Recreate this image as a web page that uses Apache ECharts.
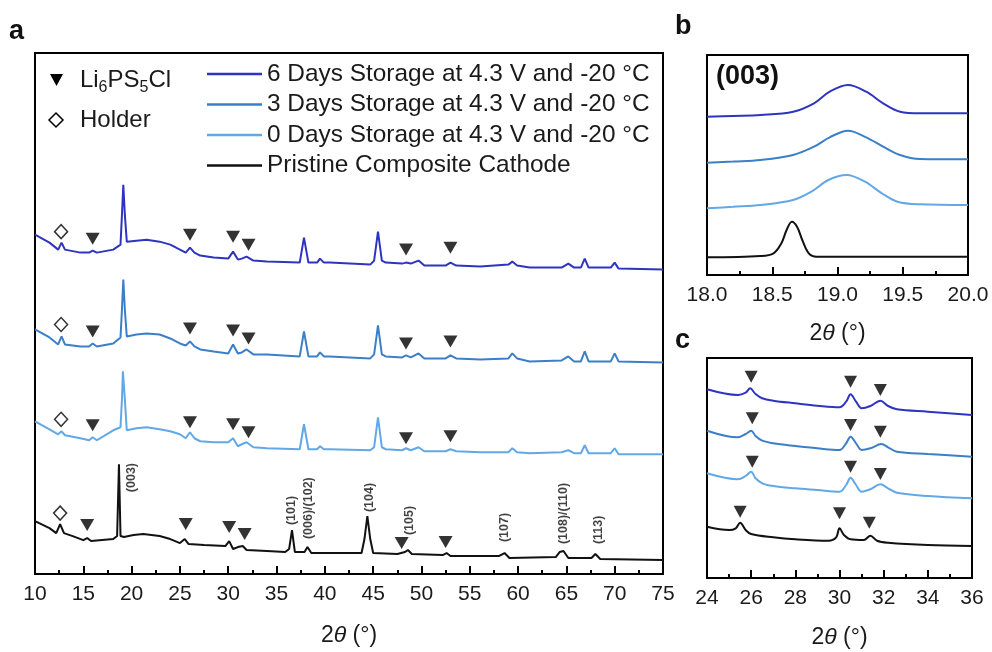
<!DOCTYPE html>
<html>
<head>
<meta charset="utf-8">
<script src="https://cdn.jsdelivr.net/npm/echarts@6/dist/echarts.min.js"></script>
<style>
  html, body { margin: 0; padding: 0; background: #fff; }
  #chart { width: 992px; height: 652px; }
</style>
</head>
<body>
<div id="chart"></div>
<script>
// ---- Series names and colours ----
const curveNames = [
  '6 Days Storage at 4.3 V and -20 °C',
  '3 Days Storage at 4.3 V and -20 °C',
  '0 Days Storage at 4.3 V and -20 °C',
  'Pristine Composite Cathode'
];
const curveColors = ['#2f34c0', '#3b7fc8', '#63a8e6', '#111111'];

// ---- (a) full scans, 2θ (°) vs intensity (a.u., above each trace's own baseline) ----
const scanA_6d = [[10,35],[11.5,27],[12.4,20],[12.75,27],[13.1,20],[14.7,17],[15.6,17],[15.97,19],[16.4,17],[18.1,20],[18.85,25],[19.0,55],[19.14,85],[19.3,55],[19.5,28],[20.5,29],[21.55,30],[22.9,28],[24.0,25],[25.0,20],[25.6,17],[26.04,22],[26.5,17],[27.1,14],[28.5,12],[30.0,11],[30.5,18],[31.0,10],[31.4,11],[31.9,13],[32.6,9],[34.0,8],[37.4,7],[37.84,32],[38.3,7],[39.2,7],[39.5,11],[39.9,7],[40.5,7],[44.7,5],[45.1,9],[45.5,38],[45.9,9],[46.3,7],[48.0,6],[48.4,7],[48.9,6],[49.7,9],[50.3,4],[52.5,4],[53.0,7],[53.6,4],[56.1,3],[59.0,5],[59.4,8],[59.9,4],[61.2,2],[64.5,2],[65.2,6],[65.8,2],[66.5,2],[66.9,11],[67.3,2],[69.6,2],[70.0,7],[70.4,1],[75,0]];
const scanA_3d = [[10,33],[11.5,25],[12.4,18],[12.75,26],[13.1,18],[14.7,16],[15.6,16],[15.97,19],[16.4,16],[18.1,19],[18.85,25],[19.0,53],[19.14,83],[19.3,53],[19.5,26],[20.5,28],[21.55,29],[22.9,28],[24.0,24],[25.0,19],[25.6,17],[26.04,21],[26.5,16],[27.1,13],[28.5,11],[30.0,9],[30.5,18],[31.0,9],[31.4,10],[31.9,13],[32.6,8],[34.0,8],[37.4,6],[37.84,31],[38.3,6],[39.2,6],[39.5,10],[39.9,6],[40.5,6],[44.7,4],[45.1,8],[45.5,37],[45.9,8],[46.3,6],[48.0,5],[48.4,7],[48.9,5],[49.7,9],[50.3,4],[52.5,4],[53.0,7],[53.6,4],[56.1,3],[59.0,4],[59.4,9],[59.9,4],[61.2,1],[64.5,2],[65.2,6],[65.8,1],[66.5,1],[66.9,11],[67.3,1],[69.6,1],[70.0,9],[70.4,1],[75,0]];
const scanA_0d = [[10,33],[11.5,25],[12.4,20],[12.75,23],[13.1,19],[14.7,16],[15.6,14],[15.97,17],[16.4,14],[18.1,24],[18.85,27],[19.0,55],[19.1,83],[19.3,55],[19.5,24],[20.5,26],[21.55,27],[22.9,25],[24.0,23],[25.0,20],[25.6,16],[26.04,22],[26.5,16],[27.1,13],[28.5,12],[30.0,12],[30.5,16],[31.0,8],[31.4,10],[31.9,12],[32.6,7],[34.0,6],[37.4,5],[37.84,30],[38.3,5],[39.2,5],[39.5,8],[39.9,5],[40.5,5],[44.7,4],[45.1,7],[45.5,37],[45.9,7],[46.3,5],[48.0,4],[48.4,6],[48.9,4],[49.7,7],[50.3,3],[52.5,3],[53.0,5],[53.6,3],[56.1,2],[59.0,2],[59.4,6],[59.9,2],[61.2,1],[64.5,2],[65.2,4],[65.8,1],[66.5,1],[66.9,9],[67.3,1],[69.6,1],[70.0,6],[70.4,0],[75,0]];
const scanA_pristine = [[10,39],[11.5,32],[12.2,27],[12.6,36],[13.0,27],[13.9,24],[15.0,20],[15.4,22],[15.8,19],[18.1,21],[18.5,24],[18.69,96],[18.85,24],[19.2,23],[20.2,25],[21.2,26],[22.9,24],[24.0,21],[25.0,17],[25.5,21],[25.9,16],[27.5,15],[29.7,14],[30.1,19],[30.5,11],[31.0,13],[31.5,14],[31.9,10],[34.0,9],[35.9,8],[36.3,11],[36.6,30],[36.9,8],[37.9,8],[38.2,13],[38.6,7],[40.5,7],[43.8,7],[44.1,21],[44.4,44],[44.7,21],[45.0,7],[47.5,6],[48.3,8],[48.6,10],[49.0,6],[52.2,5],[52.6,7],[53.0,4],[58.0,4],[58.6,7],[59.1,2],[63.9,3],[64.3,8],[64.7,9],[65.2,2],[67.6,2],[68.0,6],[68.5,1],[75,0]];
const offsetsA = [305, 212, 120, 14];

// Li6PS5Cl reflections (▼) and holder reflection (◇), same intensity scale as the traces
const li6A_6d = [[15.97,31],[26.04,35],[30.5,33],[32.1,25],[48.4,20],[53.0,22]];
const li6A_3d = [[15.97,31],[26.04,34],[30.5,32],[32.1,24],[48.4,19],[53.0,21]];
const li6A_0d = [[15.97,29],[26.04,32],[30.5,30],[32.1,22],[48.4,16],[53.0,18]];
const li6A_pristine = [[15.4,35],[25.6,36],[30.1,33],[31.7,26],[47.95,17],[52.5,18]];
const holderA = [[12.7,38],[12.7,38],[12.7,35],[12.6,47]];

// Indexed reflections of the pristine cathode
const hklLabels = ['(003)','(101)','(006)/(102)','(104)','(105)','(107)','(108)/(110)','(113)'];
const hklTheta  = [20.0, 36.57, 38.29, 44.6, 48.74, 58.64, 64.68, 68.3];
const hklLevel  = [68, 35, 21, 48, 25, 18, 16, 16];

// ---- (b) (003) region ----
const scanB_6d = [[18.0,0],[18.2,0.8],[18.41,1.7],[18.66,5],[18.82,13.4],[18.94,25],[19.08,31.7],[19.22,25],[19.35,13.4],[19.48,5],[19.63,3.4],[20.0,3.4]];
const scanB_3d = [[18.0,0],[18.2,1.2],[18.41,2.7],[18.66,7.7],[18.82,16],[18.94,25.4],[19.08,32],[19.22,25.4],[19.35,16],[19.48,7.7],[19.63,3.7],[20.0,3.4]];
const scanB_0d = [[18.0,0],[18.2,1.5],[18.41,3.3],[18.66,8.3],[18.8,16.6],[18.93,28.3],[19.07,33.3],[19.21,26.6],[19.34,15],[19.46,6.6],[19.63,4],[20.0,3.3]];
const scanB_pristine = [[18.0,0],[18.41,1.3],[18.51,4],[18.57,14],[18.61,27.3],[18.65,35.6],[18.69,30.6],[18.73,17.3],[18.78,4],[18.84,0.6],[20.0,0.6]];
const offsetsB = [158.3, 112.3, 66.7, 17.7];

// ---- (c) 24–36° region ----
const scanC_6d = [[24,25.7],[25.4,20],[25.75,22.3],[25.95,26.7],[26.2,21],[26.5,16.7],[27,14.3],[28,11.7],[29,9.3],[30,7.7],[30.3,13.3],[30.5,20.7],[30.75,13.3],[31.0,6.7],[31.4,9],[31.85,14.3],[32.2,9],[32.6,5.7],[34,3.3],[36,0]];
const scanC_3d = [[24,26],[25.4,19.4],[25.75,22.7],[26.0,26],[26.2,20.7],[26.5,16],[27,13.4],[28,10.7],[29,8.4],[30,6.7],[30.3,13.4],[30.5,20],[30.75,13.4],[31.0,6.7],[31.4,8.4],[31.9,12.7],[32.2,9.4],[32.6,5],[34,2.7],[36,0]];
const scanC_0d = [[24,25],[25.4,19],[25.75,22.3],[26.0,26.6],[26.2,20],[26.5,15],[27,12.3],[28,10],[29,8.3],[30,6.6],[30.3,13.3],[30.5,20.6],[30.75,13.3],[31.0,6.6],[31.4,9],[31.85,14],[32.2,10],[32.6,5.6],[34,2.3],[36,0]];
const scanC_pristine = [[24,19.3],[25.0,16],[25.3,17.7],[25.5,23.3],[25.75,16],[26.0,12],[27,8.7],[28,6.7],[29.5,5.3],[29.85,8.7],[30.0,17.7],[30.2,11],[30.5,6.7],[31.1,6],[31.4,10.3],[31.7,5.3],[32.2,3.3],[34,1],[36,0]];
const offsetsC = [163, 121.3, 79.7, 32];
const li6C_6d = [[26.0,38.3],[30.5,33.3],[31.85,25]];
const li6C_3d = [[26.05,38.4],[30.5,31.7],[31.85,25]];
const li6C_0d = [[26.05,36.6],[30.5,31.6],[31.85,24.3]];
const li6C_pristine = [[25.5,34.3],[30.0,32.7],[31.35,23.3]];

// ---- Build chart ----
const FONT = '"Liberation Sans", Arial, Helvetica, sans-serif';
const INK = '#1a1a1a';

function lift(points, off) { return points.map(p => [p[0], p[1] + off]); }

const scansA = [scanA_6d, scanA_3d, scanA_0d, scanA_pristine];
const scansB = [scanB_6d, scanB_3d, scanB_0d, scanB_pristine];
const scansC = [scanC_6d, scanC_3d, scanC_0d, scanC_pristine];
const li6A = [li6A_6d, li6A_3d, li6A_0d, li6A_pristine];
const li6C = [li6C_6d, li6C_3d, li6C_0d, li6C_pristine];

function xAxisFor(gridIndex, min, max, interval, gap, fmt) {
  return {
    type: 'value', gridIndex, min, max, interval,
    axisLine: { show: true, onZero: false, lineStyle: { color: '#000', width: 2 } },
    axisTick: { show: true, inside: true, length: 8, lineStyle: { color: '#000', width: 2 } },
    minorTick: { show: true, splitNumber: 2, length: 4, lineStyle: { color: '#000', width: 2 } },
    splitLine: { show: false },
    axisLabel: { fontSize: 21, color: INK, fontFamily: FONT, margin: 10, formatter: fmt },
    name: '2{i|θ} (°)',
    nameLocation: 'middle',
    nameGap: gap,
    nameTextStyle: { fontSize: 23, color: INK, fontFamily: FONT,
      rich: { i: { fontSize: 23, fontStyle: 'italic', color: INK, fontFamily: FONT } } }
  };
}
function yAxisFor(gridIndex, max) {
  return { type: 'value', gridIndex, min: 0, max, show: false, splitLine: { show: false } };
}

const series = [];
[scansA, scansB, scansC].forEach((set, gi) => {
  const offs = [offsetsA, offsetsB, offsetsC][gi];
  set.forEach((pts, k) => {
    series.push({
      name: curveNames[k], type: 'line', xAxisIndex: gi, yAxisIndex: gi,
      data: lift(pts, offs[k]), showSymbol: false, symbol: 'none',
      smooth: gi === 0 ? false : 0.35,
      lineStyle: { color: curveColors[k], width: 2 },
      itemStyle: { color: curveColors[k] },
      z: 2, silent: true
    });
  });
});

// ▼ markers
series.push({
  type: 'scatter', xAxisIndex: 0, yAxisIndex: 0,
  data: li6A.flatMap((m, k) => lift(m, offsetsA[k])),
  symbol: 'triangle', symbolRotate: 180, symbolSize: [14, 12],
  itemStyle: { color: '#000' }, z: 5, silent: true
});
series.push({
  type: 'scatter', xAxisIndex: 2, yAxisIndex: 2,
  data: li6C.flatMap((m, k) => lift(m, offsetsC[k])),
  symbol: 'triangle', symbolRotate: 180, symbolSize: [13, 12],
  itemStyle: { color: '#000' }, z: 5, silent: true
});
// ◇ markers
series.push({
  type: 'scatter', xAxisIndex: 0, yAxisIndex: 0,
  data: holderA.map((p, k) => [p[0], p[1] + offsetsA[k]]),
  symbol: 'diamond', symbolSize: [13, 14],
  itemStyle: { color: '#fff', borderColor: '#000', borderWidth: 1.5 }, z: 5, silent: true
});
// hkl labels
series.push({
  type: 'scatter', xAxisIndex: 0, yAxisIndex: 0,
  data: hklLabels.map((t, i) => ({ value: [hklTheta[i], hklLevel[i] + offsetsA[3]], name: t })),
  symbolSize: 0, silent: true, z: 6,
  label: { show: true, formatter: '{b}', position: [0, 0], rotate: 90,
    align: 'left', verticalAlign: 'middle',
    fontSize: 12.5, fontWeight: 'bold', color: '#111', fontFamily: FONT }
});

const chart = echarts.init(document.getElementById('chart'), null, { renderer: 'canvas' });
chart.setOption({
  backgroundColor: '#fff',
  animation: false,
  grid: [
    { left: 35, top: 53, width: 628, height: 522, show: true, borderColor: '#000', borderWidth: 2, backgroundColor: 'transparent' },
    { left: 707, top: 55, width: 261, height: 220, show: true, borderColor: '#000', borderWidth: 2, backgroundColor: 'transparent' },
    { left: 707, top: 358, width: 265, height: 220, show: true, borderColor: '#000', borderWidth: 2, backgroundColor: 'transparent' }
  ],
  xAxis: [
    xAxisFor(0, 10, 75, 5, 50),
    xAxisFor(1, 18, 20, 0.5, 47.5, v => v.toFixed(1)),
    xAxisFor(2, 24, 36, 2, 48.5)
  ],
  yAxis: [yAxisFor(0, 522), yAxisFor(1, 220), yAxisFor(2, 220)],
  legend: {
    data: curveNames, orient: 'vertical', left: 207, top: 62,
    icon: 'rect', itemWidth: 55, itemHeight: 2.5, itemGap: 6.5, padding: 0,
    selectedMode: false,
    textStyle: { fontSize: 24.4, color: INK, fontFamily: FONT, lineHeight: 24 }
  },
  graphic: [
    { type: 'text', left: 9, top: 18, style: { text: 'a', font: 'bold 27px ' + FONT, fill: '#111' } },
    { type: 'text', left: 675, top: 13, style: { text: 'b', font: 'bold 27px ' + FONT, fill: '#111' } },
    { type: 'text', left: 675, top: 327, style: { text: 'c', font: 'bold 27px ' + FONT, fill: '#111' } },
    { type: 'text', left: 716, top: 63, style: { text: '(003)', font: 'bold 27px ' + FONT, fill: '#111' } },
    // ▼ Li6PS5Cl / ◇ Holder key
    { type: 'polygon', shape: { points: [[50, 74], [63, 74], [56.5, 86]] }, style: { fill: '#000' } },
    { type: 'text', x: 80, y: 80, style: { text: 'Li', font: '24px ' + FONT, fill: INK, verticalAlign: 'middle' } },
    { type: 'text', x: 98.5, y: 88, style: { text: '6', font: '16px ' + FONT, fill: INK, verticalAlign: 'middle' } },
    { type: 'text', x: 107.5, y: 80, style: { text: 'PS', font: '24px ' + FONT, fill: INK, verticalAlign: 'middle' } },
    { type: 'text', x: 139.5, y: 88, style: { text: '5', font: '16px ' + FONT, fill: INK, verticalAlign: 'middle' } },
    { type: 'text', x: 148.5, y: 80, style: { text: 'Cl', font: '24px ' + FONT, fill: INK, verticalAlign: 'middle' } },
    { type: 'polygon', shape: { points: [[56, 113], [63, 120], [56, 127], [49, 120]] }, style: { fill: '#fff', stroke: '#000', lineWidth: 1.5 } },
    { type: 'text', x: 80, y: 120, style: { text: 'Holder', font: '24px ' + FONT, fill: INK, verticalAlign: 'middle' } }
  ],
  series
});
</script>
</body>
</html>
